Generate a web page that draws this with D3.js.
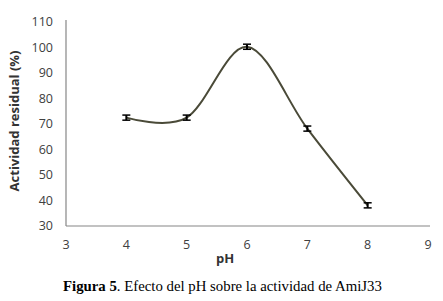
<!DOCTYPE html>
<html>
<head>
<meta charset="utf-8">
<script src="https://cdn.jsdelivr.net/npm/d3@7"></script>
<style>
  body { margin: 0; background: #fff; }
  svg { display: block; }
</style>
</head>
<body>
<svg></svg>
<script>
var width = 443;
var height = 301;

// pH vs residual activity
var phValues = [4, 5, 6, 7, 8];
var activity = [72.5, 72.5, 100.3, 68.2, 38.1];
var errors = [1.0, 1.0, 1.0, 1.0, 1.0];
var xTicks = [3, 4, 5, 6, 7, 8, 9];
var yTicks = [30, 40, 50, 60, 70, 80, 90, 100, 110];

var x = d3.scaleLinear().domain([3, 9]).range([66, 428]);
var y = d3.scaleLinear().domain([30, 110]).range([226, 22]);

var svg = d3.select('svg')
    .attr('width', width)
    .attr('height', height);

// axes lines
svg.append('line')
    .attr('x1', x(3)).attr('x2', x(3))
    .attr('y1', y(110) - 2).attr('y2', y(30))
    .attr('stroke', '#868686').attr('stroke-width', 1.2);
svg.append('line')
    .attr('x1', x(3)).attr('x2', x(9) + 2)
    .attr('y1', y(30)).attr('y2', y(30))
    .attr('stroke', '#868686').attr('stroke-width', 1.2);

// tick labels
svg.selectAll('.ytick')
    .data(yTicks)
    .enter()
    .append('text')
        .attr('x', 53)
        .attr('y', d => y(d))
        .attr('dy', '0.35em')
        .attr('text-anchor', 'end')
        .attr('font-family', 'Open Sans, sans-serif')
        .attr('font-size', 12.5)
        .attr('fill', '#404040')
        .text(d => d);

svg.selectAll('.xtick')
    .data(xTicks)
    .enter()
    .append('text')
        .attr('x', d => x(d))
        .attr('y', 249)
        .attr('text-anchor', 'middle')
        .attr('font-family', 'Open Sans, sans-serif')
        .attr('font-size', 12.5)
        .attr('fill', '#404040')
        .text(d => d);

// axis titles
svg.append('text')
    .attr('transform', 'translate(19,121) rotate(-90)')
    .attr('text-anchor', 'middle')
    .attr('font-family', 'Open Sans, sans-serif')
    .attr('font-weight', 'bold')
    .attr('font-size', 13)
    .attr('fill', '#333')
    .text('Actividad residual (%)');

svg.append('text')
    .attr('x', 225)
    .attr('y', 263)
    .attr('text-anchor', 'middle')
    .attr('font-family', 'Open Sans, sans-serif')
    .attr('font-weight', 'bold')
    .attr('font-size', 13)
    .attr('fill', '#333')
    .text('pH');

// smoothed line
var pts = phValues.map((d, i) => [d, activity[i]]);
var line = d3.line()
    .x(d => x(d[0]))
    .y(d => y(d[1]))
    .curve(d3.curveCardinal.tension(0));

svg.append('path')
    .datum(pts)
    .attr('fill', 'none')
    .attr('stroke', '#4a4a38')
    .attr('stroke-width', 2)
    .attr('d', line);

// error bars
var bars = svg.selectAll('.err')
    .data(pts)
    .enter()
    .append('g');

bars.append('line')
    .attr('x1', d => x(d[0])).attr('x2', d => x(d[0]))
    .attr('y1', (d, i) => y(d[1] + errors[i]))
    .attr('y2', (d, i) => y(d[1] - errors[i]))
    .attr('stroke', '#000').attr('stroke-width', 2);
bars.append('line')
    .attr('x1', d => x(d[0]) - 4).attr('x2', d => x(d[0]) + 4)
    .attr('y1', (d, i) => y(d[1] + errors[i]))
    .attr('y2', (d, i) => y(d[1] + errors[i]))
    .attr('stroke', '#000').attr('stroke-width', 1.5);
bars.append('line')
    .attr('x1', d => x(d[0]) - 4).attr('x2', d => x(d[0]) + 4)
    .attr('y1', (d, i) => y(d[1] - errors[i]))
    .attr('y2', (d, i) => y(d[1] - errors[i]))
    .attr('stroke', '#000').attr('stroke-width', 1.5);

// caption
var cap = svg.append('text')
    .attr('x', 63)
    .attr('y', 291)
    .attr('font-family', 'Liberation Serif, Times New Roman, serif')
    .attr('font-size', 14.8)
    .attr('fill', '#000');
cap.append('tspan').attr('font-weight', 'bold').text('Figura 5');
cap.append('tspan').text('. Efecto del pH sobre la actividad de AmiJ33');
</script>
</body>
</html>
